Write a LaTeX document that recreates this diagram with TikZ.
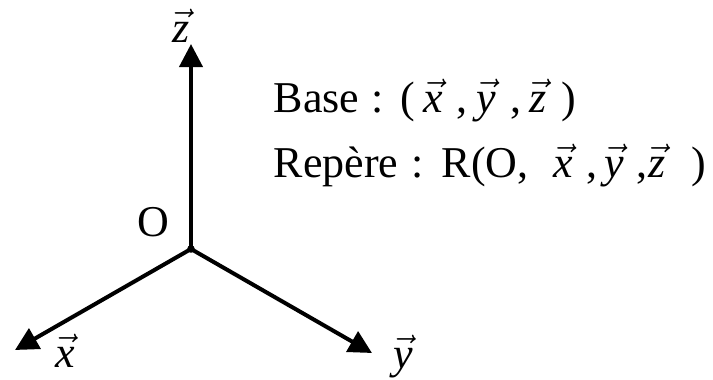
\RequirePackage{fix-cm}
\documentclass[tikz,border=0pt]{standalone}
\usepackage{fontspec}
\setmainfont{Liberation Serif}
\usetikzlibrary{arrows.meta}
\newcommand{\vv}[1]{$\vec{\textit{#1}}$}
\newcommand{\putat}[2]{\rlap{\hspace{#1pt}#2}}
\begin{document}
\begin{tikzpicture}[x=1pt,y=-1pt,
  axis/.style={line width=4pt,-{Triangle[length=23pt,width=23pt]}},
  lab/.style={inner sep=0pt,font=\fontsize{44}{50}\selectfont},
  txt/.style={inner sep=0pt,anchor=base west,font=\fontsize{44}{50}\selectfont}]
\useasboundingbox (0,0) rectangle (713,380);
\coordinate (O) at (191,249);
\coordinate (zt) at (191,44);
\coordinate (xt) at (15,350);
\coordinate (yt) at (372,353);
\draw[axis] (O) -- (zt);
\draw[axis] (O) -- (xt);
\draw[axis] (O) -- (yt);
\fill (O) circle (3.8pt);
\node[lab,anchor=base] (zl) at (181,42) {\vv{z}};
\node[lab,anchor=base] (xl) at (65,367) {\vv{x}};
\node[lab,anchor=base] (yl) at (403,368) {\vv{y}};
\node[lab,anchor=base] (ol) at (153,236) {O};
\node[txt] (base) at (273,112) {\putat{0}{Base}\putat{98}{:}\putat{127}{(}\putat{150}{\vv{x}}\putat{183}{,}\putat{203}{\vv{y}}\putat{237}{,}\putat{256}{\vv{z}}\putat{288}{)}\hspace{303pt}};
\node[txt] (rep) at (273,177) {\putat{0}{Repère}\putat{138}{:}\putat{168}{R(O,}\putat{280}{\vv{x}}\putat{313}{,}\putat{331}{\vv{y}}\putat{363}{,}\putat{375}{\vv{z}}\putat{418}{)}\hspace{434pt}};
\end{tikzpicture}
\end{document}
